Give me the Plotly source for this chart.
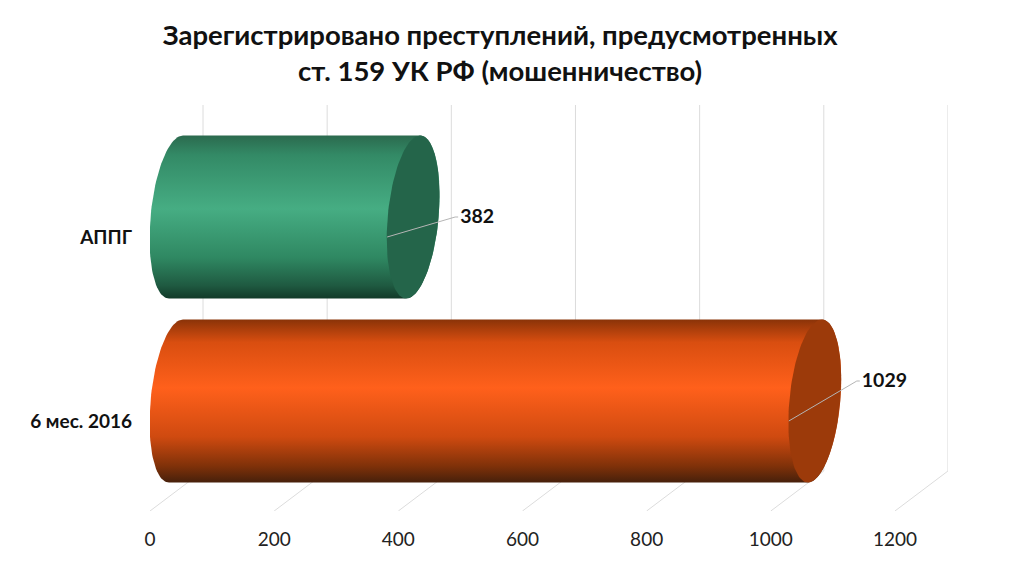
import numpy as np
import plotly.graph_objects as go

categories = ["6 мес. 2016", "АППГ"]
values = [1029, 382]
axis_ticks = [0, 200, 400, 600, 800, 1000, 1200]
title_line_1 = "Зарегистрировано преступлений, предусмотренных"
title_line_2 = "ст. 159 УК РФ (мошенничество)"

FONT = "Lato, 'Open Sans', sans-serif"
PX_X = 0.6208          # px per value unit
PX_Y = 184.0           # px per category step
ux = lambda px: px / PX_X
uy = lambda px: px / PX_Y

# stops listed from the top of each cylinder to its bottom
body_stops = [
    [[0, "#8a3308"], [0.14, "#d94e10"], [0.42, "#ff601b"], [0.72, "#cf4a10"], [0.9, "#7f3109"], [1, "#47200b"]],
    [[0, "#2b6a4e"], [0.12, "#338a66"], [0.45, "#46ad83"], [0.75, "#2f8862"], [0.92, "#1f5a41"], [1, "#123a29"]],
]
cap_colors = ["#9c3a0a", "#24654a"]
label_dy_px = [40, 20]

y_bottom = uy(421 - 511)
y_top = uy(421 - 105)
DEPTH_X, DEPTH_Y = 26, 20   # cylinder centre offset in px
A, K, H = 25.5, 7.0, 81.5   # ellipse axes in px

fig = go.Figure()

# walls: gridlines on the back wall and floor, from the axis ticks
gx, gy = [], []
for t in axis_ticks:
    gx += [t, t + ux(53), t + ux(53), None]
    gy += [y_bottom, y_bottom + uy(40), y_top, None]
fig.add_trace(go.Scatter(x=gx, y=gy, mode="lines", line=dict(color="#dcdcdc", width=1),
                         hoverinfo="skip", showlegend=False))


def ellipse(v, i, t):
    x = v + ux(DEPTH_X + A * np.cos(t) + K * np.sin(t))
    y = i + uy(DEPTH_Y + H * np.sin(t))
    return x, y


for i, (cat, v) in enumerate(zip(categories, values)):
    left_t = np.linspace(np.pi / 2, 3 * np.pi / 2, 60)
    right_t = np.linspace(-np.pi / 2, np.pi / 2, 60)
    lx, ly = ellipse(0, i, left_t)
    rx, ry = ellipse(v, i, right_t)
    scale = [[1 - s, c] for s, c in reversed(body_stops[i])]
    fig.add_trace(go.Scatter(
        x=np.r_[lx, rx, lx[0]], y=np.r_[ly, ry, ly[0]], mode="lines", fill="toself",
        line=dict(width=0), fillgradient=dict(type="vertical", colorscale=scale),
        name=cat, hoverinfo="skip", showlegend=False))
    all_t = np.linspace(0, 2 * np.pi, 120)
    cx, cy = ellipse(v, i, all_t)
    fig.add_trace(go.Scatter(x=cx, y=cy, mode="lines", fill="toself", fillcolor=cap_colors[i],
                             line=dict(width=0), hoverinfo="skip", showlegend=False))
    # leader line and value label
    ex, ey = v + ux(68), i + uy(label_dy_px[i])
    fig.add_trace(go.Scatter(x=[v, ex, ex + ux(3)], y=[i, ey, ey], mode="lines",
                             line=dict(color="#b5b5b5", width=1), hoverinfo="skip", showlegend=False))
    fig.add_trace(go.Scatter(x=[ex + ux(5)], y=[ey - uy(1.5)], mode="text", text=[str(v)], textposition="middle right",
                             textfont=dict(family=FONT, size=19.5, color="#111111", weight=700),
                             hoverinfo="skip", showlegend=False))

fig.update_layout(
    width=1008, height=560, paper_bgcolor="white", plot_bgcolor="white", showlegend=False,
    margin=dict(l=142, r=68, t=97, b=57),
    title=dict(text=f"{title_line_1}<br>{title_line_2}",
               x=0.4882, xanchor="center", y=0.934, yanchor="middle",
               font=dict(family=FONT, size=27.5, color="#111111", weight=700)),
    xaxis=dict(range=[0, ux(798)], tickvals=axis_ticks, showgrid=False, zeroline=False, showline=False,
               ticks="", ticklabelstandoff=15, tickfont=dict(family=FONT, size=19, color="#222222")),
    yaxis=dict(range=[y_bottom, y_top], tickvals=[0, 1], ticktext=categories, showgrid=False, zeroline=False,
               showline=False, ticks="", ticklabelstandoff=17,
               tickfont=dict(family=FONT, size=19, color="#111111", weight=700)),
)
fig.write_html("out.html")
